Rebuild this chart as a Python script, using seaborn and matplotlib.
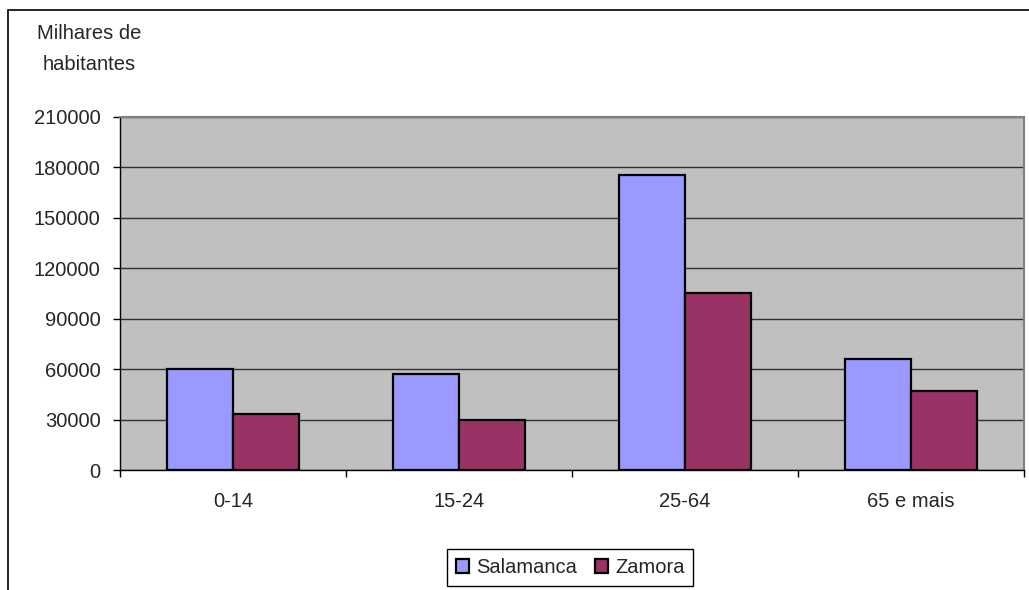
import matplotlib
matplotlib.use("Agg")
import matplotlib.pyplot as plt
import seaborn as sns
import pandas as pd
from matplotlib.patches import Rectangle

categories = ["0-14", "15-24", "25-64", "65 e mais"]
salamanca = [59800, 57300, 175200, 66100]
zamora = [33300, 29900, 105500, 47000]
series_names = ["Salamanca", "Zamora"]
yticks = [0, 30000, 60000, 90000, 120000, 150000, 180000, 210000]

df = pd.DataFrame({
    "cat": categories * 2,
    "val": salamanca + zamora,
    "serie": [series_names[0]] * 4 + [series_names[1]] * 4,
})

sns.set_theme(style="white")
plt.rcParams["font.family"] = ["Liberation Sans", "DejaVu Sans"]
FS = 14.5

fig = plt.figure(figsize=(10.29, 5.90), dpi=100)
ax = fig.add_axes([120 / 1029, 1 - 470 / 590, (1024 - 120) / 1029, (470 - 117) / 590])
ax.set_facecolor("#C0C0C0")

sns.barplot(data=df, x="cat", y="val", hue="serie", order=categories,
            hue_order=series_names, palette=["#9999FF", "#993366"],
            width=0.584, gap=0, edgecolor="black", linewidth=1.6,
            saturation=1, ax=ax, legend=True, zorder=3)

ax.set_ylim(0, 210000)
ax.set_xlim(-0.5, 3.5)
ax.set_yticks(yticks)
ax.set_yticklabels([str(v) for v in yticks], fontsize=FS)
ax.yaxis.grid(True, color="#303030", linewidth=1.0, zorder=1)
ax.set_axisbelow(True)
ax.tick_params(axis="y", which="major", left=True, length=5, width=1, color="black",
               direction="out", pad=9)
ax.set_xticks(range(len(categories)))
ax.set_xticklabels(categories, fontsize=FS)
ax.set_xticks([-0.5, 0.5, 1.5, 2.5, 3.5], minor=True)
ax.tick_params(axis="x", which="major", length=0, pad=16)
ax.tick_params(axis="x", which="minor", bottom=True, length=5, width=1, color="black", direction="out")
ax.set_xlabel("")
ax.set_ylabel("")

for side in ["top", "right"]:
    ax.spines[side].set_visible(True)
    ax.spines[side].set_color("#808080")
    ax.spines[side].set_linewidth(1.5)
for side in ["left", "bottom"]:
    ax.spines[side].set_visible(True)
    ax.spines[side].set_color("black")
    ax.spines[side].set_linewidth(1.0)

leg = ax.get_legend()
handles = leg.legend_handles
leg.remove()
fig.legend(handles, series_names, loc="center", bbox_to_anchor=(570 / 1029, 1 - 567.5 / 590),
           ncol=2, frameon=True, fancybox=False, edgecolor="black", fontsize=FS,
           handlelength=0.65, handleheight=0.65, handletextpad=0.35, columnspacing=0.9,
           borderpad=0.45, borderaxespad=0, framealpha=1)
fig.legends[0].get_frame().set_linewidth(1.0)

fig.text(89 / 1029, 1 - 49 / 590, "Milhares de\nhabitantes", ha="center", va="center",
         fontsize=FS, linespacing=1.75)

fig.patches.append(Rectangle((8 / 1029, -0.2), 1.2, 1.2 - 10 / 590,
                             transform=fig.transFigure, fill=False, edgecolor="black",
                             linewidth=1.2, zorder=0))

fig.savefig("out.png", dpi=100)
